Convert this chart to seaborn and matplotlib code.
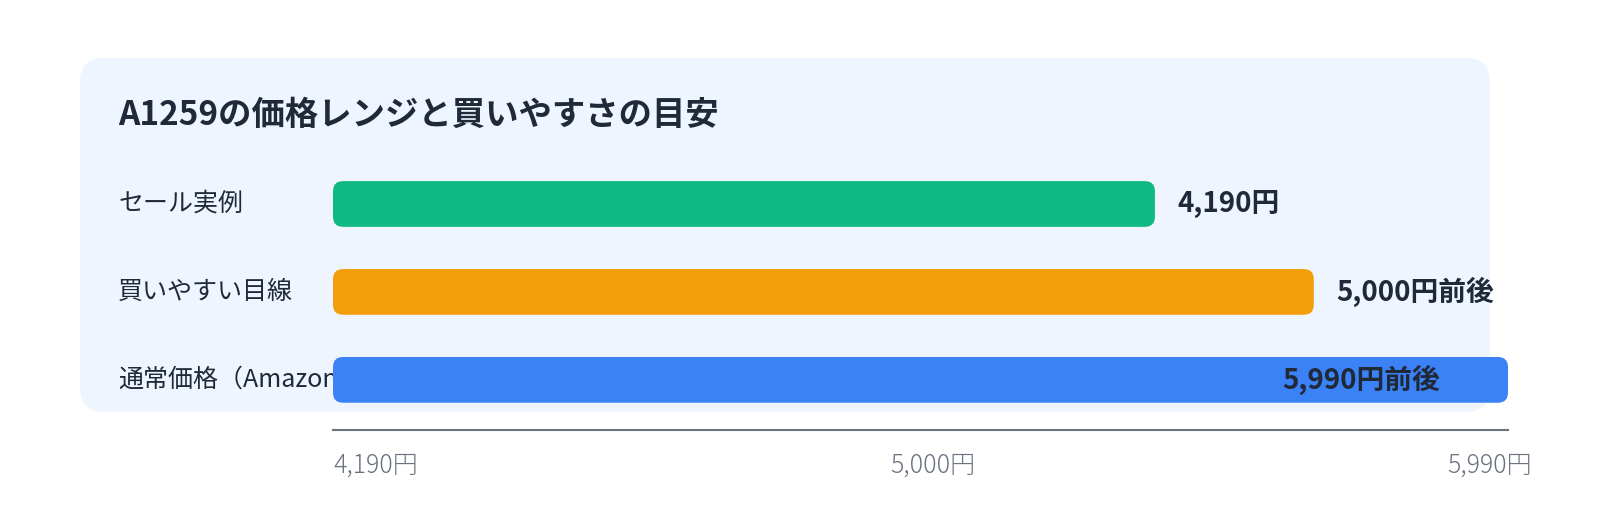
import matplotlib
matplotlib.use("Agg")
import matplotlib.pyplot as plt
import matplotlib.transforms as mtransforms
from matplotlib.patches import FancyBboxPatch
import seaborn as sns

# chart data
categories = ["セール実例", "買いやすい目線", "通常価格（Amazon）"]
prices = [4190, 5000, 5990]
value_labels = ["4,190円", "5,000円前後", "5,990円前後"]
tick_labels = ["4,190円", "5,000円", "5,990円"]
bar_colors = ["#10B981", "#F59E0B", "#3B82F6"]
title = "A1259の価格レンジと買いやすさの目安"

sns.set_theme(style="white")
plt.rcParams["font.family"] = ["Noto Sans CJK JP", "DejaVu Sans"]

W, H, DPI = 1600, 520, 100
fig = plt.figure(figsize=(W / DPI, H / DPI), dpi=DPI)
fig.patch.set_facecolor("white")

# light blue rounded panel behind everything
panel = FancyBboxPatch((80 / W, 1 - 412 / H), (1490 - 80) / W, (412 - 58) / H,
                       boxstyle="round,pad=0,rounding_size=0.015",
                       mutation_aspect=W / H,
                       transform=fig.transFigure, facecolor="#EEF5FE",
                       edgecolor="none", zorder=-1)
fig.patches.append(panel)

fig.text(118 / W, 1 - 115 / H, title, fontsize=24, fontweight="bold",
         color="#1F2937", ha="left", va="center")

ax = fig.add_axes([333 / W, 1 - 430 / H, (1508 - 333) / W, (430 - 160) / H])
ax.set_facecolor("none")

sns.barplot(x=prices, y=categories, hue=categories, palette=bar_colors,
            orient="h", width=0.52, saturation=1, legend=False, ax=ax)

ax.set_xlim(0, max(prices))
ax.set_ylim(len(categories) - 1 + 0.57, -0.5)

# swap the plain rectangles for rounded ones
x_per_px = 1.0 / (ax.transData.transform((1, 0))[0] - ax.transData.transform((0, 0))[0])
y_per_px = 1.0 / abs(ax.transData.transform((0, 1))[1] - ax.transData.transform((0, 0))[1])
radius_px = 10
for p in list(ax.patches):
    x, y, w, h = p.get_x(), p.get_y(), p.get_width(), p.get_height()
    fc = p.get_facecolor()
    p.remove()
    ax.add_patch(FancyBboxPatch((x, y), w, h,
                                boxstyle=f"round,pad=0,rounding_size={radius_px * x_per_px}",
                                mutation_aspect=y_per_px / x_per_px,
                                facecolor=fc, edgecolor="none", zorder=3, clip_on=False))

# category labels, drawn under the bars (the long one gets covered)
lab_trans = mtransforms.blended_transform_factory(fig.transFigure, ax.transData)
for i, cat in enumerate(categories):
    ax.text(118 / W, i, cat, transform=lab_trans, ha="left", va="center",
            fontsize=18, color="#1F2937", zorder=1, clip_on=False)

# value labels
for i, (val, lab) in enumerate(zip(prices, value_labels)):
    if val == max(prices):
        ax.annotate(lab, (val, i), xytext=(-49, 0), textcoords="offset points",
                    ha="right", va="center", fontsize=20, fontweight="bold",
                    color="#1F2937", zorder=4, annotation_clip=False)
    else:
        ax.annotate(lab, (val, i), xytext=(16, 0), textcoords="offset points",
                    ha="left", va="center", fontsize=20, fontweight="bold",
                    color="#1F2937", zorder=4, annotation_clip=False)

ax.set_ylabel("")
ax.set_xlabel("")
ax.set_yticks([])
ticks = [0, max(prices) / 2, max(prices)]
ax.set_xticks(ticks)
ax.set_xticklabels(tick_labels, fontsize=18, color="#6B7280", fontweight="light")
ax.tick_params(axis="x", length=0, pad=16)
shifts = [(0, "left"), (12, "center"), (24, "right")]
for lbl, (dx, ha) in zip(ax.get_xticklabels(), shifts):
    lbl.set_horizontalalignment(ha)
    lbl.set_transform(lbl.get_transform() +
                      mtransforms.ScaledTranslation(dx / DPI, 0, fig.dpi_scale_trans))

for side in ["left", "top", "right"]:
    ax.spines[side].set_visible(False)
ax.spines["bottom"].set_color("#6B7280")
ax.spines["bottom"].set_linewidth(1.5)

fig.savefig("out.png", dpi=DPI)
